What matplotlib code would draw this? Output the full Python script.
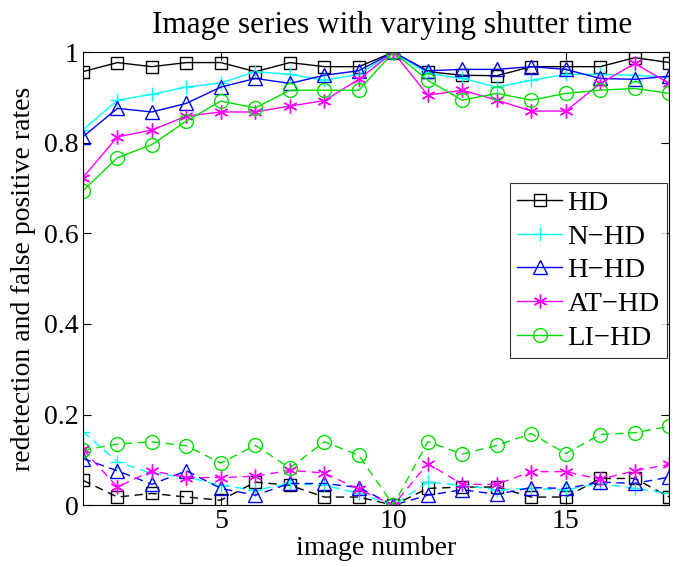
import matplotlib
matplotlib.use("Agg")
import matplotlib.pyplot as plt
import numpy as np

plt.rcParams['font.family'] = ['Liberation Serif', 'DejaVu Serif']
plt.rcParams['mathtext.fontset'] = 'stix'

image_number = list(range(1, 19))

# redetection rates (solid lines)
hd_red = [0.957, 0.977, 0.968, 0.977, 0.977, 0.957, 0.977, 0.968, 0.968, 1.0,
          0.957, 0.949, 0.948, 0.968, 0.968, 0.968, 0.988, 0.977]
nhd_red = [0.828, 0.894, 0.907, 0.923, 0.932, 0.957, 0.951, 0.938, 0.951, 1.0,
           0.953, 0.942, 0.923, 0.938, 0.951, 0.951, 0.949, 0.945]
hhd_red = [0.813, 0.876, 0.868, 0.887, 0.923, 0.942, 0.931, 0.949, 0.959, 1.0,
           0.959, 0.962, 0.962, 0.968, 0.962, 0.942, 0.940, 0.947]
athd_red = [0.723, 0.813, 0.828, 0.859, 0.868, 0.868, 0.881, 0.893, 0.940, 1.0,
            0.905, 0.916, 0.894, 0.870, 0.870, 0.931, 0.975, 0.931]
lihd_red = [0.694, 0.767, 0.796, 0.848, 0.892, 0.877, 0.916, 0.916, 0.916, 1.0,
            0.938, 0.894, 0.909, 0.894, 0.909, 0.916, 0.920, 0.909]

# false positive rates (dashed lines)
hd_fp = [0.055, 0.018, 0.026, 0.018, 0.011, 0.051, 0.044, 0.018, 0.018, 0.0,
         0.037, 0.040, 0.040, 0.018, 0.018, 0.059, 0.059, 0.018]
nhd_fp = [0.162, 0.096, 0.070, 0.062, 0.044, 0.033, 0.048, 0.044, 0.026, 0.0,
          0.051, 0.044, 0.034, 0.037, 0.034, 0.048, 0.037, 0.026]
hhd_fp = [0.103, 0.076, 0.046, 0.076, 0.037, 0.022, 0.048, 0.048, 0.039, 0.0,
          0.022, 0.034, 0.024, 0.039, 0.037, 0.051, 0.048, 0.062]
athd_fp = [0.123, 0.040, 0.076, 0.061, 0.061, 0.064, 0.077, 0.071, 0.035, 0.0,
           0.092, 0.046, 0.046, 0.074, 0.074, 0.057, 0.076, 0.090]
lihd_fp = [0.121, 0.135, 0.140, 0.131, 0.093, 0.132, 0.082, 0.140, 0.110, 0.0,
           0.140, 0.113, 0.132, 0.158, 0.114, 0.156, 0.160, 0.174]

labels = ['HD', 'N\u2212HD', 'H\u2212HD', 'AT\u2212HD', 'LI\u2212HD']
colors = ['black', 'cyan', 'blue', 'magenta', '#00e000']
markers = ['s', '+', '^', (6, 2, 0), 'o']
msizes = [8, 10, 10, 10, 10]

fig = plt.figure(figsize=(6.74, 5.67), dpi=100)
ax = fig.add_axes([0.123, 0.109, 0.870, 0.799])

red = [hd_red, nhd_red, hhd_red, athd_red, lihd_red]
fp = [hd_fp, nhd_fp, hhd_fp, athd_fp, lihd_fp]

for r, f, lab, c, m, ms in zip(red, fp, labels, colors, markers, msizes):
    style = dict(marker=m, markersize=ms, markerfacecolor='none',
                 markeredgecolor=c, markeredgewidth=1.0, color=c, linewidth=1.0)
    ax.plot(image_number, r, linestyle='-', label=lab, **style)
    ax.plot(image_number, f, linestyle=(0, (6, 4)), **style)

ax.set_xlim(1, 18)
ax.set_ylim(0, 1)
ax.set_xticks([5, 10, 15])
ax.set_yticks([0, 0.2, 0.4, 0.6, 0.8, 1])
ax.set_yticklabels(['0', '0.2', '0.4', '0.6', '0.8', '1'])
ax.tick_params(direction='in', top=True, right=True, length=6, width=0.8,
               labelsize=20, pad=3)
for s in ax.spines.values():
    s.set_linewidth(0.8)

ax.set_xlabel('image number', fontsize=20, labelpad=1)
ax.set_ylabel('redetection and false positive rates', fontsize=20, labelpad=6)
ax.set_title('Image series with varying shutter time', fontsize=22.5, pad=14,
             x=0.527)

leg = ax.legend(loc='upper left', bbox_to_anchor=(0.729, 0.711), fontsize=20.5,
                frameon=True, fancybox=False, edgecolor='black',
                handlelength=1.55, handletextpad=0.2, borderpad=0.25,
                labelspacing=0.27, borderaxespad=0)
leg.get_frame().set_linewidth(0.8)

fig.savefig('out.png', dpi=100)
